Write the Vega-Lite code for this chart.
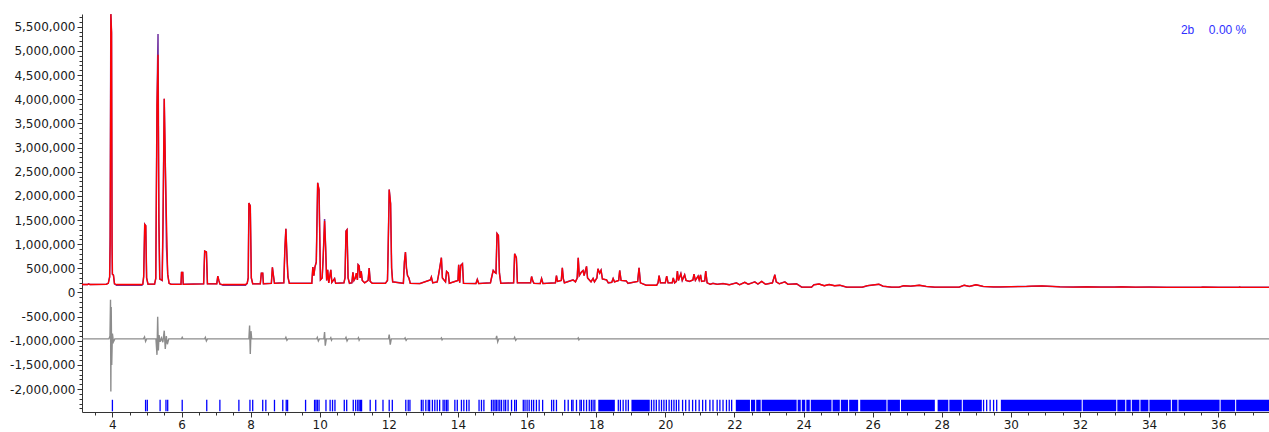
{
"$schema": "https://vega.github.io/schema/vega-lite/v6.json",
"width": 1187, "height": 398,
"autosize": {"type": "none"},
"padding": {"left": 82, "top": 14, "right": 0, "bottom": 20},
"background": "white",
"config": {"view": {"stroke": null}, "axis": {"grid": false, "title": null, "domainColor": "#333333", "tickColor": "#333333", "labelColor": "#1a1a1a", "labelFont": "DejaVu Sans", "labelFontSize": 12}},
"datasets": {
"profile": [
{"tth":3.12,"obs":165000,"calc":165000},{"tth":3.28,"obs":165000,"calc":165000},{"tth":3.31,"obs":178000,"calc":178000},{"tth":3.35,"obs":165000,"calc":165000},
{"tth":3.82,"obs":170000,"calc":170000},{"tth":3.88,"obs":190000,"calc":190000},{"tth":3.92,"obs":320000,"calc":320000},{"tth":3.935,"obs":1200000,"calc":1000000},
{"tth":3.955,"obs":5760000,"calc":5760000},{"tth":3.975,"obs":5380000,"calc":5380000},{"tth":3.99,"obs":1000000,"calc":1000000},{"tth":4.0,"obs":380000,"calc":380000},
{"tth":4.03,"obs":360000,"calc":360000},{"tth":4.06,"obs":180000,"calc":180000},{"tth":4.12,"obs":150000,"calc":165000},{"tth":4.85,"obs":150000,"calc":165000},
{"tth":4.88,"obs":170000,"calc":175000},{"tth":4.905,"obs":330000,"calc":330000},{"tth":4.935,"obs":1410000,"calc":1410000},{"tth":4.965,"obs":1380000,"calc":1380000},
{"tth":4.99,"obs":300000,"calc":300000},{"tth":5.03,"obs":170000,"calc":175000},{"tth":5.22,"obs":170000,"calc":175000},{"tth":5.255,"obs":290000,"calc":290000},
{"tth":5.29,"obs":3860000,"calc":3860000},{"tth":5.32,"obs":5350000,"calc":4920000},{"tth":5.345,"obs":1500000,"calc":1450000},{"tth":5.37,"obs":280000,"calc":280000},
{"tth":5.44,"obs":250000,"calc":250000},{"tth":5.465,"obs":1470000,"calc":1470000},{"tth":5.5,"obs":4010000,"calc":4010000},{"tth":5.53,"obs":2700000,"calc":2700000},
{"tth":5.565,"obs":930000,"calc":1500000},{"tth":5.6,"obs":380000,"calc":380000},{"tth":5.64,"obs":190000,"calc":190000},{"tth":5.7,"obs":170000,"calc":170000},
{"tth":5.985,"obs":170000,"calc":170000},{"tth":6.0,"obs":415000,"calc":415000},{"tth":6.035,"obs":415000,"calc":415000},{"tth":6.05,"obs":170000,"calc":170000},
{"tth":6.64,"obs":180000,"calc":180000},{"tth":6.67,"obs":857000,"calc":857000},{"tth":6.72,"obs":840000,"calc":840000},{"tth":6.75,"obs":180000,"calc":180000},
{"tth":7.02,"obs":180000,"calc":180000},{"tth":7.05,"obs":340000,"calc":340000},{"tth":7.08,"obs":250000,"calc":250000},{"tth":7.11,"obs":175000,"calc":175000},
{"tth":7.2,"obs":150000,"calc":165000},{"tth":7.85,"obs":150000,"calc":165000},{"tth":7.9,"obs":190000,"calc":190000},{"tth":7.93,"obs":300000,"calc":300000},
{"tth":7.95,"obs":1850000,"calc":1850000},{"tth":7.99,"obs":1790000,"calc":1790000},{"tth":8.02,"obs":300000,"calc":300000},{"tth":8.06,"obs":180000,"calc":180000},
{"tth":8.28,"obs":180000,"calc":180000},{"tth":8.31,"obs":400000,"calc":400000},{"tth":8.35,"obs":400000,"calc":400000},{"tth":8.37,"obs":180000,"calc":180000},
{"tth":8.6,"obs":190000,"calc":190000},{"tth":8.63,"obs":519000,"calc":519000},{"tth":8.66,"obs":350000,"calc":350000},{"tth":8.69,"obs":190000,"calc":190000},
{"tth":8.96,"obs":200000,"calc":200000},{"tth":8.99,"obs":890000,"calc":890000},{"tth":9.02,"obs":1320000,"calc":1320000},{"tth":9.05,"obs":770000,"calc":770000},
{"tth":9.08,"obs":320000,"calc":320000},{"tth":9.12,"obs":190000,"calc":190000},{"tth":9.77,"obs":190000,"calc":190000},{"tth":9.8,"obs":525000,"calc":525000},
{"tth":9.83,"obs":350000,"calc":350000},{"tth":9.86,"obs":525000,"calc":525000},{"tth":9.9,"obs":630000,"calc":630000},{"tth":9.94,"obs":2270000,"calc":2270000},
{"tth":9.98,"obs":2120000,"calc":2120000},{"tth":10.02,"obs":260000,"calc":260000},{"tth":10.07,"obs":300000,"calc":300000},{"tth":10.1,"obs":733000,"calc":733000},
{"tth":10.14,"obs":1520000,"calc":1480000},{"tth":10.17,"obs":940000,"calc":940000},{"tth":10.2,"obs":250000,"calc":250000},{"tth":10.23,"obs":470000,"calc":470000},
{"tth":10.26,"obs":200000,"calc":200000},{"tth":10.32,"obs":470000,"calc":470000},{"tth":10.35,"obs":210000,"calc":210000},{"tth":10.43,"obs":290000,"calc":290000},
{"tth":10.46,"obs":190000,"calc":190000},{"tth":10.7,"obs":200000,"calc":200000},{"tth":10.73,"obs":300000,"calc":300000},{"tth":10.76,"obs":1270000,"calc":1270000},
{"tth":10.79,"obs":1300000,"calc":1300000},{"tth":10.82,"obs":300000,"calc":300000},{"tth":10.86,"obs":190000,"calc":190000},{"tth":10.93,"obs":200000,"calc":200000},
{"tth":10.96,"obs":415000,"calc":415000},{"tth":10.99,"obs":250000,"calc":250000},{"tth":11.03,"obs":300000,"calc":300000},{"tth":11.06,"obs":400000,"calc":400000},
{"tth":11.09,"obs":260000,"calc":260000},{"tth":11.11,"obs":575000,"calc":575000},{"tth":11.14,"obs":550000,"calc":550000},{"tth":11.17,"obs":300000,"calc":300000},
{"tth":11.2,"obs":440000,"calc":440000},{"tth":11.23,"obs":250000,"calc":250000},{"tth":11.3,"obs":200000,"calc":200000},{"tth":11.4,"obs":250000,"calc":250000},
{"tth":11.43,"obs":505000,"calc":505000},{"tth":11.46,"obs":230000,"calc":230000},{"tth":11.52,"obs":190000,"calc":190000},{"tth":11.9,"obs":190000,"calc":190000},
{"tth":11.96,"obs":250000,"calc":250000},{"tth":11.98,"obs":906000,"calc":906000},{"tth":12.01,"obs":2130000,"calc":2130000},{"tth":12.05,"obs":1840000,"calc":1840000},
{"tth":12.08,"obs":500000,"calc":500000},{"tth":12.11,"obs":220000,"calc":220000},{"tth":12.42,"obs":190000,"calc":190000},{"tth":12.45,"obs":630000,"calc":630000},
{"tth":12.48,"obs":836000,"calc":836000},{"tth":12.51,"obs":500000,"calc":500000},{"tth":12.54,"obs":350000,"calc":350000},{"tth":12.58,"obs":300000,"calc":300000},
{"tth":12.62,"obs":190000,"calc":190000},{"tth":12.9,"obs":185000,"calc":185000},{"tth":13.2,"obs":260000,"calc":260000},{"tth":13.23,"obs":320000,"calc":320000},
{"tth":13.27,"obs":200000,"calc":200000},{"tth":13.4,"obs":220000,"calc":220000},{"tth":13.43,"obs":330000,"calc":330000},{"tth":13.47,"obs":500000,"calc":500000},
{"tth":13.52,"obs":720000,"calc":720000},{"tth":13.55,"obs":300000,"calc":300000},{"tth":13.64,"obs":220000,"calc":220000},{"tth":13.67,"obs":435000,"calc":435000},
{"tth":13.72,"obs":400000,"calc":400000},{"tth":13.75,"obs":190000,"calc":190000},{"tth":14.0,"obs":250000,"calc":250000},{"tth":14.02,"obs":575000,"calc":575000},
{"tth":14.05,"obs":200000,"calc":200000},{"tth":14.08,"obs":560000,"calc":560000},{"tth":14.13,"obs":595000,"calc":595000},{"tth":14.16,"obs":190000,"calc":190000},
{"tth":14.52,"obs":185000,"calc":185000},{"tth":14.56,"obs":270000,"calc":270000},{"tth":14.6,"obs":185000,"calc":185000},{"tth":14.94,"obs":200000,"calc":200000},
{"tth":14.97,"obs":300000,"calc":300000},{"tth":15.02,"obs":456000,"calc":456000},{"tth":15.06,"obs":420000,"calc":420000},{"tth":15.1,"obs":400000,"calc":400000},
{"tth":15.13,"obs":1220000,"calc":1220000},{"tth":15.17,"obs":1180000,"calc":1180000},{"tth":15.2,"obs":400000,"calc":400000},{"tth":15.24,"obs":190000,"calc":190000},
{"tth":15.61,"obs":200000,"calc":200000},{"tth":15.64,"obs":803000,"calc":803000},{"tth":15.69,"obs":720000,"calc":720000},{"tth":15.72,"obs":200000,"calc":200000},
{"tth":16.1,"obs":200000,"calc":200000},{"tth":16.13,"obs":330000,"calc":330000},{"tth":16.17,"obs":230000,"calc":230000},{"tth":16.2,"obs":190000,"calc":190000},
{"tth":16.38,"obs":185000,"calc":185000},{"tth":16.42,"obs":290000,"calc":290000},{"tth":16.46,"obs":185000,"calc":185000},{"tth":16.82,"obs":200000,"calc":200000},
{"tth":16.85,"obs":350000,"calc":350000},{"tth":16.88,"obs":230000,"calc":230000},{"tth":16.99,"obs":250000,"calc":250000},{"tth":17.02,"obs":512000,"calc":512000},
{"tth":17.05,"obs":280000,"calc":280000},{"tth":17.08,"obs":200000,"calc":200000},{"tth":17.33,"obs":260000,"calc":260000},{"tth":17.4,"obs":220000,"calc":220000},
{"tth":17.45,"obs":300000,"calc":300000},{"tth":17.48,"obs":720000,"calc":720000},{"tth":17.51,"obs":350000,"calc":350000},{"tth":17.57,"obs":420000,"calc":420000},
{"tth":17.62,"obs":456000,"calc":456000},{"tth":17.65,"obs":350000,"calc":350000},{"tth":17.72,"obs":540000,"calc":540000},{"tth":17.75,"obs":300000,"calc":300000},
{"tth":17.85,"obs":220000,"calc":220000},{"tth":17.91,"obs":290000,"calc":290000},{"tth":17.95,"obs":220000,"calc":220000},{"tth":18.02,"obs":300000,"calc":300000},
{"tth":18.05,"obs":490000,"calc":490000},{"tth":18.1,"obs":400000,"calc":400000},{"tth":18.14,"obs":460000,"calc":460000},{"tth":18.18,"obs":280000,"calc":280000},
{"tth":18.3,"obs":260000,"calc":260000},{"tth":18.35,"obs":200000,"calc":200000},{"tth":18.45,"obs":210000,"calc":210000},{"tth":18.49,"obs":290000,"calc":290000},
{"tth":18.53,"obs":220000,"calc":220000},{"tth":18.65,"obs":250000,"calc":250000},{"tth":18.68,"obs":456000,"calc":456000},{"tth":18.72,"obs":250000,"calc":250000},
{"tth":18.87,"obs":240000,"calc":240000},{"tth":18.92,"obs":190000,"calc":190000},{"tth":19.2,"obs":230000,"calc":230000},{"tth":19.24,"obs":512000,"calc":512000},
{"tth":19.28,"obs":200000,"calc":200000},{"tth":19.45,"obs":150000,"calc":150000},{"tth":19.75,"obs":150000,"calc":150000},{"tth":19.79,"obs":200000,"calc":200000},
{"tth":19.82,"obs":350000,"calc":350000},{"tth":19.86,"obs":200000,"calc":200000},{"tth":20.0,"obs":200000,"calc":200000},{"tth":20.04,"obs":340000,"calc":340000},
{"tth":20.08,"obs":200000,"calc":200000},{"tth":20.2,"obs":200000,"calc":200000},{"tth":20.23,"obs":300000,"calc":300000},{"tth":20.27,"obs":200000,"calc":200000},
{"tth":20.32,"obs":230000,"calc":230000},{"tth":20.35,"obs":442000,"calc":442000},{"tth":20.38,"obs":250000,"calc":250000},{"tth":20.45,"obs":390000,"calc":390000},
{"tth":20.49,"obs":250000,"calc":250000},{"tth":20.56,"obs":365000,"calc":365000},{"tth":20.6,"obs":250000,"calc":250000},{"tth":20.7,"obs":230000,"calc":230000},
{"tth":20.8,"obs":260000,"calc":260000},{"tth":20.83,"obs":380000,"calc":380000},{"tth":20.87,"obs":250000,"calc":250000},{"tth":20.95,"obs":340000,"calc":340000},
{"tth":20.98,"obs":260000,"calc":260000},{"tth":21.02,"obs":365000,"calc":365000},{"tth":21.05,"obs":230000,"calc":230000},{"tth":21.14,"obs":240000,"calc":240000},
{"tth":21.17,"obs":442000,"calc":442000},{"tth":21.21,"obs":200000,"calc":200000},{"tth":21.3,"obs":170000,"calc":170000},{"tth":21.38,"obs":190000,"calc":190000},
{"tth":21.5,"obs":170000,"calc":170000},{"tth":21.67,"obs":185000,"calc":185000},{"tth":21.85,"obs":160000,"calc":160000},{"tth":22.06,"obs":200000,"calc":200000},
{"tth":22.15,"obs":160000,"calc":160000},{"tth":22.3,"obs":210000,"calc":210000},{"tth":22.4,"obs":170000,"calc":170000},{"tth":22.59,"obs":220000,"calc":220000},
{"tth":22.68,"obs":175000,"calc":175000},{"tth":22.79,"obs":230000,"calc":230000},{"tth":22.9,"obs":170000,"calc":170000},{"tth":23.1,"obs":200000,"calc":200000},
{"tth":23.17,"obs":367000,"calc":367000},{"tth":23.21,"obs":220000,"calc":220000},{"tth":23.3,"obs":180000,"calc":180000},{"tth":23.46,"obs":220000,"calc":220000},
{"tth":23.55,"obs":170000,"calc":170000},{"tth":23.8,"obs":180000,"calc":180000},{"tth":23.95,"obs":110000,"calc":110000},{"tth":24.23,"obs":110000,"calc":110000},
{"tth":24.3,"obs":160000,"calc":160000},{"tth":24.45,"obs":175000,"calc":175000},{"tth":24.6,"obs":140000,"calc":140000},{"tth":24.74,"obs":165000,"calc":165000},
{"tth":24.9,"obs":140000,"calc":140000},{"tth":25.05,"obs":150000,"calc":150000},{"tth":25.25,"obs":110000,"calc":110000},{"tth":25.7,"obs":110000,"calc":110000},
{"tth":25.85,"obs":140000,"calc":140000},{"tth":26.18,"obs":170000,"calc":170000},{"tth":26.3,"obs":130000,"calc":130000},{"tth":26.55,"obs":110000,"calc":110000},
{"tth":26.76,"obs":110000,"calc":110000},{"tth":26.9,"obs":140000,"calc":140000},{"tth":27.1,"obs":130000,"calc":130000},{"tth":27.35,"obs":150000,"calc":150000},
{"tth":27.55,"obs":125000,"calc":125000},{"tth":27.8,"obs":110000,"calc":110000},{"tth":28.5,"obs":110000,"calc":110000},{"tth":28.65,"obs":150000,"calc":150000},
{"tth":28.8,"obs":125000,"calc":125000},{"tth":28.99,"obs":160000,"calc":160000},{"tth":29.2,"obs":125000,"calc":125000},{"tth":29.5,"obs":115000,"calc":115000},
{"tth":29.7,"obs":115000,"calc":115000},{"tth":30.0,"obs":120000,"calc":120000},{"tth":30.45,"obs":125000,"calc":125000},{"tth":30.6,"obs":130000,"calc":130000},
{"tth":30.9,"obs":135000,"calc":135000},{"tth":31.2,"obs":125000,"calc":125000},{"tth":31.42,"obs":118000,"calc":118000},{"tth":31.8,"obs":112000,"calc":112000},
{"tth":32.2,"obs":118000,"calc":118000},{"tth":32.6,"obs":112000,"calc":112000},{"tth":33.0,"obs":112000,"calc":112000},{"tth":33.2,"obs":118000,"calc":118000},
{"tth":33.6,"obs":110000,"calc":110000},{"tth":34.0,"obs":112000,"calc":112000},{"tth":34.5,"obs":108000,"calc":108000},{"tth":35.5,"obs":108000,"calc":108000},
{"tth":35.55,"obs":112000,"calc":112000},{"tth":36.0,"obs":108000,"calc":108000},{"tth":36.6,"obs":108000,"calc":108000},{"tth":36.62,"obs":115000,"calc":115000},
{"tth":36.65,"obs":108000,"calc":108000},{"tth":37.47,"obs":108000,"calc":108000}
],
"diff": [
{"tth":3.12,"diff":-960000},{"tth":3.9,"diff":-960000},{"tth":3.93,"diff":-900000},{"tth":3.945,"diff":-150000},{"tth":3.955,"diff":-2050000},{"tth":3.965,"diff":-300000},
{"tth":3.98,"diff":-1500000},{"tth":4.0,"diff":-850000},{"tth":4.03,"diff":-1020000},{"tth":4.07,"diff":-960000},{"tth":4.9,"diff":-960000},{"tth":4.93,"diff":-920000},
{"tth":4.96,"diff":-1010000},{"tth":4.99,"diff":-960000},{"tth":5.26,"diff":-960000},{"tth":5.29,"diff":-1290000},{"tth":5.31,"diff":-500000},{"tth":5.33,"diff":-1200000},
{"tth":5.35,"diff":-880000},{"tth":5.38,"diff":-1020000},{"tth":5.42,"diff":-940000},{"tth":5.46,"diff":-1030000},{"tth":5.5,"diff":-790000},{"tth":5.53,"diff":-1170000},
{"tth":5.56,"diff":-900000},{"tth":5.59,"diff":-1070000},{"tth":5.63,"diff":-960000},{"tth":6.0,"diff":-960000},{"tth":6.02,"diff":-930000},{"tth":6.04,"diff":-960000},
{"tth":6.67,"diff":-960000},{"tth":6.69,"diff":-930000},{"tth":6.72,"diff":-1000000},{"tth":6.75,"diff":-960000},{"tth":7.95,"diff":-960000},{"tth":7.97,"diff":-685000},{"tth":7.99,"diff":-1270000},
{"tth":8.01,"diff":-800000},{"tth":8.03,"diff":-960000},{"tth":9.0,"diff":-960000},{"tth":9.02,"diff":-930000},{"tth":9.05,"diff":-990000},{"tth":9.08,"diff":-960000},{"tth":9.91,"diff":-960000},{"tth":9.93,"diff":-930000},
{"tth":9.96,"diff":-1000000},{"tth":9.99,"diff":-960000},{"tth":10.12,"diff":-960000},{"tth":10.14,"diff":-820000},{"tth":10.16,"diff":-1100000},{"tth":10.19,"diff":-960000},
{"tth":10.3,"diff":-960000},{"tth":10.32,"diff":-935000},{"tth":10.34,"diff":-985000},{"tth":10.36,"diff":-960000},
{"tth":10.74,"diff":-960000},{"tth":10.76,"diff":-930000},{"tth":10.79,"diff":-1000000},{"tth":10.82,"diff":-960000},
{"tth":11.1,"diff":-960000},{"tth":11.12,"diff":-935000},{"tth":11.14,"diff":-985000},{"tth":11.16,"diff":-960000},
{"tth":11.99,"diff":-960000},{"tth":12.01,"diff":-870000},{"tth":12.04,"diff":-1080000},{"tth":12.07,"diff":-960000},
{"tth":12.45,"diff":-960000},{"tth":12.47,"diff":-940000},{"tth":12.5,"diff":-990000},{"tth":12.53,"diff":-960000},
{"tth":13.5,"diff":-960000},{"tth":13.52,"diff":-940000},{"tth":13.54,"diff":-980000},{"tth":13.56,"diff":-960000},
{"tth":15.1,"diff":-960000},{"tth":15.12,"diff":-900000},{"tth":15.15,"diff":-1020000},{"tth":15.18,"diff":-960000},
{"tth":15.62,"diff":-960000},{"tth":15.64,"diff":-930000},{"tth":15.67,"diff":-990000},{"tth":15.7,"diff":-960000},
{"tth":17.46,"diff":-960000},{"tth":17.48,"diff":-940000},{"tth":17.5,"diff":-980000},{"tth":17.52,"diff":-960000},
{"tth":37.47,"diff":-960000}
],
"refl": [
{"pos":4.0},{"pos":4.96},{"pos":5.01},{"pos":5.38},{"pos":5.55},{"pos":5.6},{"pos":6.02},{"pos":6.73},{"pos":7.11},{"pos":7.66},{"pos":7.98},{"pos":8.06},
{"pos":8.35},{"pos":8.44},{"pos":8.69},{"pos":8.93},{"pos":9.03},{"pos":9.07},{"pos":9.59},{"pos":9.85},{"pos":9.89},{"pos":9.93},{"pos":9.98},{"pos":10.18},
{"pos":10.3},{"pos":10.37},{"pos":10.44},{"pos":10.71},{"pos":10.78},{"pos":10.97},{"pos":11.04},{"pos":11.1},{"pos":11.14},{"pos":11.18},{"pos":11.21},{"pos":11.46},
{"pos":11.62},{"pos":11.83},{"pos":12.01},{"pos":12.1},{"pos":12.49},{"pos":12.56},{"pos":12.61},{"pos":12.94},{"pos":12.99},{"pos":13.07},{"pos":13.14},{"pos":13.18},
{"pos":13.26},{"pos":13.33},{"pos":13.4},{"pos":13.47},{"pos":13.57},{"pos":13.62},{"pos":13.67},{"pos":13.71},{"pos":13.91},{"pos":13.98},{"pos":14.1},{"pos":14.17},
{"pos":14.25},{"pos":14.32},{"pos":14.61},{"pos":14.68},{"pos":14.75},{"pos":14.97},{"pos":15.02},{"pos":15.07},{"pos":15.11},{"pos":15.16},{"pos":15.21},{"pos":15.26},
{"pos":15.33},{"pos":15.38},{"pos":15.45},{"pos":15.55},{"pos":15.64},{"pos":15.69},{"pos":15.89},{"pos":15.94},{"pos":16.0},{"pos":16.06},{"pos":16.13},{"pos":16.19},
{"pos":16.27},{"pos":16.35},{"pos":16.45},{"pos":16.71},{"pos":16.77},{"pos":16.85},{"pos":17.09},{"pos":17.19},{"pos":17.29},{"pos":17.33},{"pos":17.43},{"pos":17.53},
{"pos":17.57},{"pos":17.64},{"pos":17.72},{"pos":17.8},{"pos":17.86},{"pos":17.91},{"pos":17.96},{"pos":18.64},{"pos":18.7},{"pos":18.78},{"pos":18.86},{"pos":18.93},
{"pos":19.6},{"pos":19.67},{"pos":19.74},{"pos":19.82},{"pos":19.89},{"pos":19.96},{"pos":20.03},{"pos":20.11},{"pos":20.18},{"pos":20.25},{"pos":20.32},{"pos":20.39},
{"pos":20.5},{"pos":20.59},{"pos":20.69},{"pos":20.79},{"pos":20.88},{"pos":20.98},{"pos":21.08},{"pos":21.17},{"pos":21.29},{"pos":21.38},{"pos":21.5},{"pos":21.58},
{"pos":21.67},{"pos":21.77},{"pos":21.85},{"pos":21.92},{"pos":29.21},
{"pos":29.3},{"pos":29.4},{"pos":29.5},{"pos":29.59}
],
"bands": [
{"start":18.06,"end":18.54},{"start":19.02,"end":19.55},{"start":22.04,"end":22.45},{"start":22.48,"end":22.6},{"start":22.63,"end":22.76},{"start":22.79,"end":23.8},
{"start":23.83,"end":23.92},{"start":23.95,"end":24.05},{"start":24.08,"end":24.18},{"start":24.21,"end":24.81},{"start":24.84,"end":25.05},
{"start":25.08,"end":25.29},{"start":25.32,"end":25.58},{"start":25.64,"end":26.4},{"start":26.43,"end":26.79},{"start":26.82,"end":27.8},{"start":27.88,"end":28.19},
{"start":28.22,"end":28.58},{"start":28.61,"end":29.16},{"start":29.71,"end":32.05},{"start":32.08,"end":33.05},{"start":33.08,"end":33.31},{"start":33.34,"end":33.47},
{"start":33.5,"end":33.72},{"start":33.75,"end":33.98},{"start":34.01,"end":34.63},{"start":34.66,"end":34.82},{"start":34.85,"end":36.04},{"start":36.07,"end":36.49},
{"start":36.52,"end":37.47}
],
"phases": [{"phase":"2b","pct":"0.00 %"}]
},
"resolve": {"axis": {"x": "independent", "y": "independent"}},
"layer": [
{"data": {"name": "diff"}, "mark": {"type": "line", "color": "#8c8c8c", "strokeWidth": 1.4, "clip": true},
 "encoding": {
  "x": {"field": "tth", "type": "quantitative", "scale": {"domain": [3.12, 37.47], "nice": false, "zero": false},
   "axis": {"orient": "bottom", "values": [4,6,8,10,12,14,16,18,20,22,24,26,28,30,32,34,36], "format": "d", "tickSize": 5, "labelPadding": 2, "labelFlush": false}},
  "y": {"field": "diff", "type": "quantitative", "scale": {"domain": [-2473000, 5763000], "nice": false, "zero": false},
   "axis": {"orient": "left", "values": [-2000000,-1500000,-1000000,-500000,0,500000,1000000,1500000,2000000,2500000,3000000,3500000,4000000,4500000,5000000,5500000], "tickSize": 5, "labelPadding": 2, "labelExpr": "(datum.value < 0 ? '-' : '') + format(abs(datum.value), ',d')"}}
 }},
{"data": {"name": "profile"}, "mark": {"type": "line", "color": "#7030a0", "strokeWidth": 1.5, "clip": true},
 "encoding": {
  "x": {"field": "tth", "type": "quantitative", "scale": {"domain": [3.12, 37.47], "nice": false, "zero": false},
   "axis": {"orient": "bottom", "labels": false, "domain": false, "tickSize": 3, "values": [3.5,4,4.5,5,5.5,6,6.5,7,7.5,8,8.5,9,9.5,10,10.5,11,11.5,12,12.5,13,13.5,14,14.5,15,15.5,16,16.5,17,17.5,18,18.5,19,19.5,20,20.5,21,21.5,22,22.5,23,23.5,24,24.5,25,25.5,26,26.5,27,27.5,28,28.5,29,29.5,30,30.5,31,31.5,32,32.5,33,33.5,34,34.5,35,35.5,36,36.5,37]}},
  "y": {"field": "obs", "type": "quantitative", "scale": {"domain": [-2473000, 5763000], "nice": false, "zero": false},
   "axis": {"orient": "left", "labels": false, "domain": false, "tickSize": 3, "values": [-2400000,-2300000,-2200000,-2100000,-2000000,-1900000,-1800000,-1700000,-1600000,-1500000,-1400000,-1300000,-1200000,-1100000,-1000000,-900000,-800000,-700000,-600000,-500000,-400000,-300000,-200000,-100000,0,100000,200000,300000,400000,500000,600000,700000,800000,900000,1000000,1100000,1200000,1300000,1400000,1500000,1600000,1700000,1800000,1900000,2000000,2100000,2200000,2300000,2400000,2500000,2600000,2700000,2800000,2900000,3000000,3100000,3200000,3300000,3400000,3500000,3600000,3700000,3800000,3900000,4000000,4100000,4200000,4300000,4400000,4500000,4600000,4700000,4800000,4900000,5000000,5100000,5200000,5300000,5400000,5500000,5600000,5700000]}}
 }},
{"data": {"name": "profile"}, "mark": {"type": "line", "color": "#ff0000", "strokeWidth": 1.3, "clip": true},
 "encoding": {
  "x": {"field": "tth", "type": "quantitative", "axis": null},
  "y": {"field": "calc", "type": "quantitative", "axis": null}
 }},
{"data": {"name": "refl"}, "mark": {"type": "rule", "color": "#0000ff", "strokeWidth": 1.3},
 "encoding": {
  "x": {"field": "pos", "type": "quantitative", "axis": null},
  "y": {"datum": -2220000, "type": "quantitative", "axis": null},
  "y2": {"datum": -2460000}
 }},
{"data": {"name": "bands"}, "mark": {"type": "rect", "color": "#0000ff"},
 "encoding": {
  "x": {"field": "start", "type": "quantitative", "axis": null},
  "x2": {"field": "end"},
  "y": {"datum": -2220000, "type": "quantitative", "axis": null},
  "y2": {"datum": -2460000}
 }},
{"data": {"name": "phases"}, "mark": {"type": "text", "color": "#3030ff", "font": "Liberation Sans", "fontSize": 12, "align": "left", "baseline": "middle"},
 "encoding": {
  "x": {"datum": 34.92, "type": "quantitative", "axis": null},
  "y": {"datum": 5432000, "type": "quantitative", "axis": null},
  "text": {"field": "phase"}
 }},
{"data": {"name": "phases"}, "mark": {"type": "text", "color": "#3030ff", "font": "Liberation Sans", "fontSize": 12, "align": "left", "baseline": "middle"},
 "encoding": {
  "x": {"datum": 35.73, "type": "quantitative", "axis": null},
  "y": {"datum": 5432000, "type": "quantitative", "axis": null},
  "text": {"field": "pct"}
 }}
]
}
